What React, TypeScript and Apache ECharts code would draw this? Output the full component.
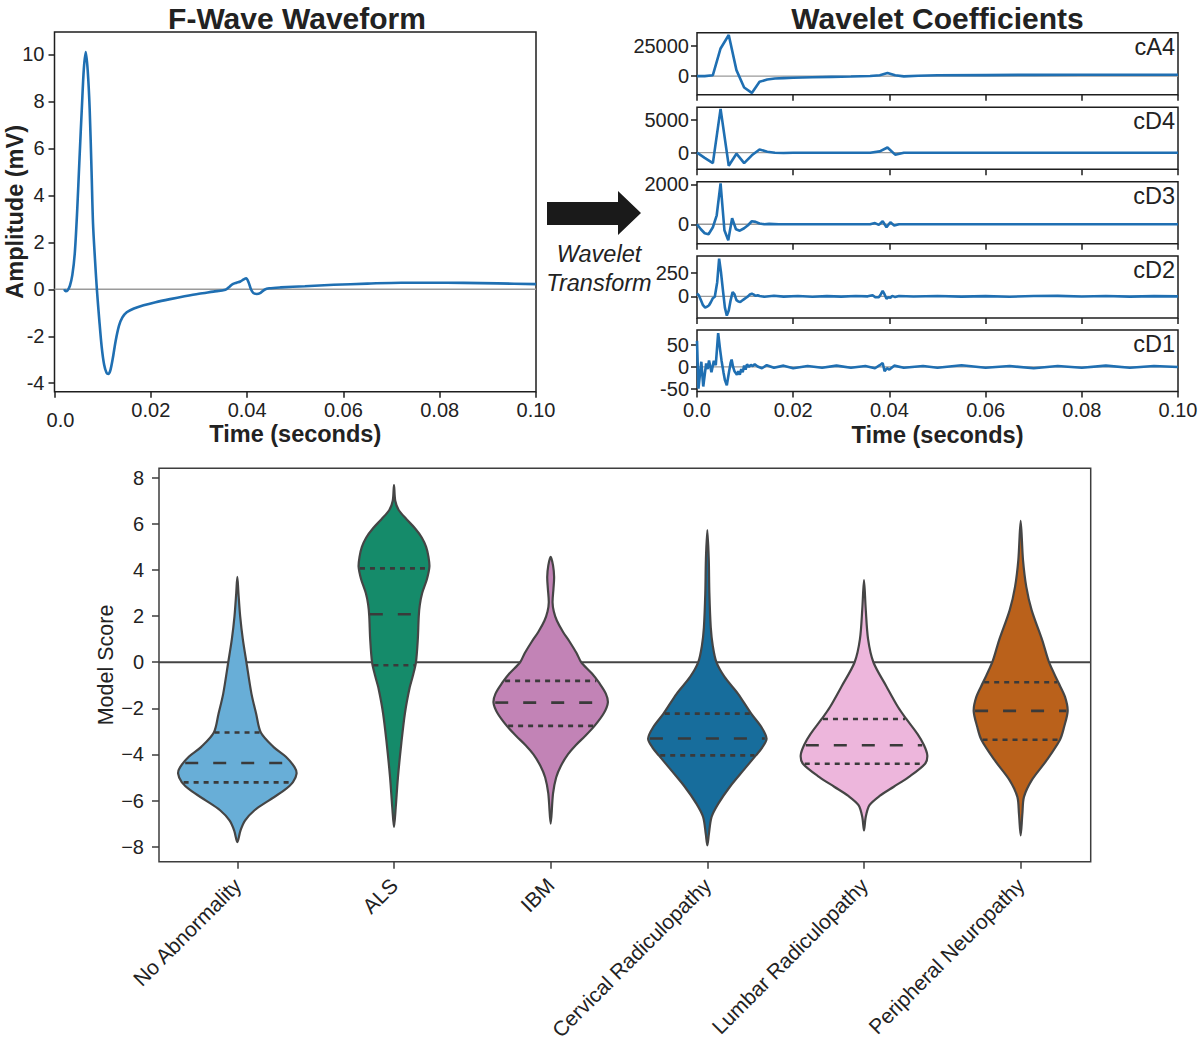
import React, { useEffect, useRef } from "react";
import * as echarts from "echarts";

const FONT = "'Liberation Sans', Arial, Helvetica, sans-serif";
const BLUE = "#1f6fb2";
const TEXT = "#222222";
const FRAME = "#1e1e1e";

// ---------- F-wave waveform ----------
const fwTime = [0.002, 0.0023, 0.0027, 0.0032, 0.0037, 0.0042, 0.0047, 0.0052, 0.0057, 0.0061, 0.0065, 0.0069, 0.0073, 0.0077, 0.008, 0.0084, 0.0088, 0.0093, 0.0098, 0.0103, 0.0108, 0.0112, 0.0116, 0.0121, 0.0127, 0.0134, 0.0141, 0.015, 0.0165, 0.0185, 0.021, 0.024, 0.027, 0.03, 0.033, 0.0355, 0.0363, 0.037, 0.0378, 0.0386, 0.0393, 0.0398, 0.0403, 0.0408, 0.0413, 0.042, 0.0428, 0.0436, 0.0446, 0.047, 0.052, 0.058, 0.065, 0.072, 0.078, 0.085, 0.092, 0.1];
const fwAmp = [0.0, -0.08, -0.05, 0.15, 0.6, 1.5, 3.3, 5.6, 7.8, 9.4, 10.1, 9.3, 7.7, 5.0, 2.8, 1.3, 0.0, -1.3, -2.45, -3.2, -3.55, -3.6, -3.45, -2.95, -2.2, -1.55, -1.2, -0.98, -0.82, -0.68, -0.55, -0.42, -0.3, -0.19, -0.1, -0.02, 0.1, 0.22, 0.28, 0.33, 0.42, 0.47, 0.3, 0.0, -0.16, -0.2, -0.15, -0.02, 0.04, 0.08, 0.13, 0.19, 0.24, 0.28, 0.28, 0.27, 0.25, 0.22];
const fwYTicks = [-4, -2, 0, 2, 4, 6, 8, 10];

// ---------- Wavelet coefficients ----------
const cA4Time = [0, 0.0016, 0.0033, 0.0049, 0.0066, 0.0082, 0.0098, 0.0114, 0.013, 0.0146, 0.0162, 0.018, 0.02, 0.024, 0.028, 0.032, 0.036, 0.038, 0.0396, 0.0412, 0.043, 0.046, 0.05, 0.06, 0.07, 0.08, 0.09, 0.1];
const cA4Val = [0, 0, 800, 23000, 34200, 5000, -9400, -13900, -4700, -2800, -2000, -1600, -1300, -900, -600, -300, 100, 800, 2600, 700, -200, 400, 700, 900, 1100, 1200, 1200, 1200];
const cD4Time = [0, 0.0016, 0.0033, 0.0049, 0.0066, 0.0082, 0.0098, 0.0114, 0.013, 0.0146, 0.0162, 0.018, 0.02, 0.036, 0.038, 0.0396, 0.0412, 0.043, 0.046, 0.1];
const cD4Val = [0, -800, -1600, 6700, -2000, -150, -1600, -400, 500, 150, 0, -50, 0, 0, 200, 800, -300, 0, 0, 0];
const cD3Time = [0, 0.0008, 0.0016, 0.0024, 0.0033, 0.0041, 0.0049, 0.0057, 0.0065, 0.0073, 0.0081, 0.0089, 0.0098, 0.0106, 0.0114, 0.0122, 0.013, 0.014, 0.015, 0.017, 0.036, 0.037, 0.0378, 0.0386, 0.0394, 0.0402, 0.041, 0.042, 0.1];
const cD3Val = [0, -250, -450, -500, -150, 450, 2050, -300, -800, 300, -250, -320, -200, -50, 150, 120, 40, 0, 20, 0, 0, 60, -30, 150, -150, 100, -60, 0, 0];
const cD2Time = [0, 0.0004, 0.0008, 0.0012, 0.0017, 0.0021, 0.0025, 0.0029, 0.0033, 0.0037, 0.0042, 0.0046, 0.005, 0.0054, 0.0058, 0.0062, 0.0066, 0.007, 0.0074, 0.0078, 0.0082, 0.0086, 0.009, 0.0094, 0.0098, 0.0102, 0.0106, 0.011, 0.0114, 0.0118, 0.0122, 0.0126, 0.013, 0.014, 0.016, 0.018, 0.021, 0.024, 0.027, 0.03, 0.033, 0.0355, 0.0365, 0.037, 0.0378, 0.0382, 0.0386, 0.039, 0.0394, 0.0398, 0.0402, 0.0406, 0.0412, 0.042, 0.045, 0.05, 0.055, 0.06, 0.065, 0.07, 0.075, 0.08, 0.085, 0.09, 0.095, 0.1];
const cD2Val = [30, 10, -40, -90, -120, -110, -95, -60, -20, -5, 150, 400, 250, 60, -120, -205, -150, -40, 45, 20, -40, -55, -60, -45, -30, -15, 0, 20, 28, 18, 5, 12, 3, -5, 6, -3, 4, -4, 2, -3, 3, 0, 12, -8, -10, 20, 57, 20, -25, -10, -15, 5, -8, 3, -2, 4, -3, 2, -4, 3, 5, -2, 3, -3, 2, 0];
const cD1Time = [0, 0.0003, 0.0009, 0.0013, 0.0019, 0.0022, 0.0025, 0.003, 0.0035, 0.0039, 0.0044, 0.0048, 0.0051, 0.0055, 0.0058, 0.0062, 0.0066, 0.007, 0.0072, 0.0075, 0.0078, 0.0083, 0.0086, 0.0089, 0.0092, 0.0095, 0.0098, 0.0101, 0.0104, 0.0108, 0.0112, 0.0116, 0.012, 0.0126, 0.0135, 0.0145, 0.016, 0.018, 0.02, 0.023, 0.026, 0.029, 0.032, 0.035, 0.037, 0.038, 0.0386, 0.039, 0.0395, 0.04, 0.041, 0.043, 0.047, 0.05, 0.055, 0.06, 0.065, 0.07, 0.075, 0.08, 0.085, 0.09, 0.095, 0.1];
const cD1Val = [60, -50, 12, -45, 8, -5, 15, -12, 14, 4, 78, 40, 15, -12, -30, -42, -15, 10, 17, 0, -10, -18, -10, -18, -5, -12, 3, -6, 6, 0, 5, 2, 6, 1, -3, 4, -2, 3, -3, 2, -2, 3, -2, 2, -3, 4, 9, -10, -3, -6, 3, -2, 2, -2, 4, -2, 2, -3, 2, -2, 3, -2, 2, 0];

const coefNames = ["cA4", "cD4", "cD3", "cD2", "cD1"];
const coefTimes = [cA4Time, cD4Time, cD3Time, cD2Time, cD1Time];
const coefVals = [cA4Val, cD4Val, cD3Val, cD2Val, cD1Val];
const coefMin = [-15400, -2540, -973, -230, -56.5];
const coefMax = [36100, 6946, 2131, 428, 85];
const coefTicks = [[0, 25000], [0, 5000], [0, 2000], [0, 250], [-50, 0, 50]];

// ---------- Violin plot ----------
const categories = ["No Abnormality", "ALS", "IBM", "Cervical Radiculopathy", "Lumbar Radiculopathy", "Peripheral Neuropathy"];
const violinColors = ["#68AED7", "#158B6A", "#C283B6", "#176D9C", "#EDB6DC", "#BA611B"];
// [score, half width in category units], top to bottom
const profNoAbn = [[3.7, 0], [3.0, 0.007], [2.0, 0.018], [1.0, 0.035], [0, 0.058], [-1.36, 0.09], [-2.23, 0.12], [-3.05, 0.15], [-3.67, 0.23], [-4.1, 0.31], [-4.55, 0.365], [-4.83, 0.378], [-5.2, 0.355], [-5.55, 0.3], [-6.0, 0.2], [-6.42, 0.11], [-6.86, 0.05], [-7.3, 0.02], [-7.8, 0]];
const profALS = [[7.68, 0], [7.0, 0.008], [6.6, 0.03], [6.2, 0.08], [5.8, 0.135], [5.4, 0.178], [5.0, 0.205], [4.57, 0.22], [4.14, 0.226], [3.6, 0.21], [3.0, 0.18], [2.5, 0.165], [2.0, 0.158], [1.0, 0.152], [0, 0.14], [-0.6, 0.12], [-1.1, 0.1], [-2.2, 0.07], [-3.5, 0.047], [-5.0, 0.025], [-6.3, 0.011], [-7.15, 0]];
const profIBM = [[4.57, 0], [4.2, 0.015], [3.7, 0.022], [3.2, 0.018], [2.6, 0.012], [2.2, 0.02], [1.8, 0.04], [1.3, 0.08], [0.9, 0.12], [0.4, 0.165], [0, 0.195], [-0.5, 0.265], [-0.9, 0.31], [-1.36, 0.352], [-1.75, 0.365], [-2.2, 0.34], [-2.76, 0.28], [-3.2, 0.22], [-3.6, 0.16], [-4.0, 0.11], [-4.5, 0.065], [-5.0, 0.035], [-5.7, 0.015], [-7.0, 0]];
const profCerv = [[5.73, 0], [4.5, 0.009], [3.0, 0.013], [1.5, 0.022], [0.7, 0.035], [0, 0.058], [-0.64, 0.11], [-1.36, 0.195], [-2.23, 0.28], [-2.81, 0.345], [-3.31, 0.378], [-3.7, 0.35], [-4.04, 0.31], [-4.69, 0.23], [-5.41, 0.143], [-6.13, 0.07], [-6.71, 0.027], [-7.44, 0.01], [-7.94, 0]];
const profLumb = [[3.56, 0], [2.3, 0.011], [1.0, 0.026], [0, 0.06], [-1.07, 0.145], [-1.94, 0.217], [-2.46, 0.27], [-3.1, 0.34], [-3.6, 0.383], [-4.04, 0.404], [-4.4, 0.39], [-4.98, 0.285], [-5.4, 0.19], [-5.8, 0.1], [-6.2, 0.035], [-6.71, 0.011], [-7.29, 0]];
const profPeri = [[6.13, 0], [4.43, 0.015], [3.27, 0.036], [2.26, 0.07], [0.95, 0.138], [0, 0.181], [-0.87, 0.24], [-1.5, 0.283], [-2.11, 0.3], [-2.81, 0.277], [-3.36, 0.251], [-4.25, 0.166], [-5.12, 0.07], [-5.84, 0.021], [-6.56, 0.011], [-7.51, 0]];
const violinProfiles = [profNoAbn, profALS, profIBM, profCerv, profLumb, profPeri];
const lowerQuartiles = [-5.21, -0.13, -2.76, -4.04, -4.4, -3.36];
const medians = [-4.37, 2.08, -1.75, -3.31, -3.6, -2.11];
const upperQuartiles = [-3.05, 4.07, -0.81, -2.23, -2.46, -0.87];
const scoreTicks = [-8, -6, -4, -2, 0, 2, 4, 6, 8];
const catTicks = [0, 1, 2, 3, 4, 5];

const V_XMIN = -0.5;
const V_XMAX = 5.447;

function widthAt(prof: number[][], v: number): number {
  for (let k = 0; k < prof.length - 1; k++) {
    const [v1, w1] = prof[k];
    const [v2, w2] = prof[k + 1];
    if (v <= v1 && v >= v2) {
      const f = (v1 - v) / (v1 - v2);
      return w1 + f * (w2 - w1);
    }
  }
  return 0;
}

const pairs = (xs: number[], ys: number[]) => xs.map((x, i) => [x, ys[i]]);

export default function App() {
  const ref = useRef<HTMLDivElement>(null);
  useEffect(() => {
    if (!ref.current) return;
    const chart = echarts.init(ref.current, null, { renderer: "svg" });

    const TICK_FS = 20;
    const tickFont = { fontFamily: FONT, fontSize: TICK_FS, color: TEXT };
    const nameStyle = { fontFamily: FONT, fontSize: 23.5, fontWeight: "bold" as const, color: TEXT };

    const grids: any[] = [
      { left: 54.5, top: 32, width: 481.5, height: 359.7 },
      { left: 697, top: 32.7, width: 481, height: 62 },
      { left: 697, top: 107.3, width: 481, height: 62 },
      { left: 697, top: 181.7, width: 481, height: 62 },
      { left: 697, top: 256, width: 481, height: 62 },
      { left: 697, top: 330, width: 481, height: 61.5 },
      { left: 159, top: 468.3, width: 931.7, height: 393.4 },
    ].map((g, i) => ({
      ...g,
      show: true,
      borderColor: i === 6 ? "#3d3d3d" : FRAME,
      borderWidth: 1.5,
      backgroundColor: "transparent",
      containLabel: false,
      outerBoundsMode: "none",
    }));

    const tickStyle = (color: string) => ({ show: true, inside: false, length: 6, lineStyle: { color, width: 1.5 } });

    const xAxes: any[] = [];
    const yAxes: any[] = [];

    // grid 0 : F-wave
    xAxes.push({
      type: "value", gridIndex: 0, min: 0, max: 0.1, interval: 0.02,
      axisLine: { show: false, onZero: false },
      axisTick: tickStyle(FRAME),
      splitLine: { show: false },
      axisLabel: {
        ...tickFont, margin: 8,
        formatter: (v: number) => (v === 0 ? "{low|0.0}" : v.toFixed(2)),
        rich: { low: { fontFamily: FONT, fontSize: TICK_FS, color: TEXT, padding: [10, 0, 0, 12] } },
      },
      name: "Time (seconds)", nameLocation: "middle", nameGap: 30, nameMoveOverlap: false, nameTextStyle: nameStyle,
    });
    yAxes.push({
      type: "value", gridIndex: 0, min: -4.36, max: 10.95,
      axisLine: { show: false, onZero: false },
      axisTick: { ...tickStyle(FRAME), customValues: fwYTicks },
      splitLine: { show: false },
      axisLabel: { ...tickFont, margin: 10, customValues: fwYTicks, formatter: (v: number) => String(v) },
      name: "Amplitude (mV)", nameLocation: "middle", nameGap: 28, nameMoveOverlap: false, nameTextStyle: nameStyle,
    });

    // grids 1..5 : wavelet coefficients
    for (let k = 0; k < 5; k++) {
      const last = k === 4;
      xAxes.push({
        type: "value", gridIndex: k + 1, min: 0, max: 0.1, interval: 0.02,
        axisLine: { show: false, onZero: false },
        axisTick: tickStyle(FRAME),
        splitLine: { show: false },
        axisLabel: { show: last, ...tickFont, margin: 8, formatter: (v: number) => (v === 0 ? "0.0" : v.toFixed(2)) },
        name: last ? "Time (seconds)" : "", nameLocation: "middle", nameGap: 31, nameMoveOverlap: false, nameTextStyle: nameStyle,
      });
      yAxes.push({
        type: "value", gridIndex: k + 1, min: coefMin[k], max: coefMax[k],
        axisLine: { show: false, onZero: false },
        axisTick: { ...tickStyle(FRAME), customValues: coefTicks[k] },
        splitLine: { show: false },
        axisLabel: { ...tickFont, margin: 8, customValues: coefTicks[k], formatter: (v: number) => String(v) },
      });
    }

    // grid 6 : violins
    xAxes.push({
      type: "value", gridIndex: 6, min: V_XMIN, max: V_XMAX,
      axisLine: { show: false, onZero: false },
      axisTick: { ...tickStyle("#3d3d3d"), length: 7, customValues: catTicks },
      splitLine: { show: false },
      axisLabel: {
        fontFamily: FONT, fontSize: 21, color: TEXT, rotate: 45, margin: 20,
        customValues: catTicks,
        formatter: (v: number) => categories[Math.round(v)] ?? "",
      },
    });
    yAxes.push({
      type: "value", gridIndex: 6, min: -8.65, max: 8.41,
      axisLine: { show: false, onZero: false },
      axisTick: { ...tickStyle("#3d3d3d"), length: 7, customValues: scoreTicks },
      splitLine: { show: false },
      axisLabel: {
        fontFamily: FONT, fontSize: TICK_FS, color: TEXT, margin: 15, customValues: scoreTicks,
        formatter: (v: number) => (v < 0 ? "\u2212" + Math.abs(v) : String(v)),
      },
      name: "Model Score", nameLocation: "middle", nameGap: 42, nameMoveOverlap: false,
      nameTextStyle: { fontFamily: FONT, fontSize: 21.5, color: TEXT },
    });

    const series: any[] = [];
    const zeroLine = (idx: number, xmin: number, xmax: number, color: string, width: number) => ({
      type: "line", xAxisIndex: idx, yAxisIndex: idx, z: 1, silent: true,
      data: [[xmin, 0], [xmax, 0]], symbol: "none",
      lineStyle: { color, width },
    });

    series.push(zeroLine(0, 0, 0.1, "#9a9a9a", 1.3));
    series.push({
      type: "line", xAxisIndex: 0, yAxisIndex: 0, z: 2, data: pairs(fwTime, fwAmp),
      symbol: "none", smooth: 0.3, lineStyle: { color: BLUE, width: 2.6 },
    });
    for (let k = 0; k < 5; k++) {
      series.push(zeroLine(k + 1, 0, 0.1, "#9a9a9a", 1.3));
      series.push({
        type: "line", xAxisIndex: k + 1, yAxisIndex: k + 1, z: 2,
        data: pairs(coefTimes[k], coefVals[k]), symbol: "none",
        lineStyle: { color: BLUE, width: 2.6 },
      });
    }
    series.push(zeroLine(6, V_XMIN, V_XMAX, "#444444", 2));
    series.push({
      type: "custom", xAxisIndex: 6, yAxisIndex: 6, z: 3, clip: false,
      data: categories.map((_, i) => [i, medians[i]]),
      encode: { x: 0, y: 1 },
      renderItem: (params: any, api: any) => {
        const i = params.dataIndex;
        const prof = violinProfiles[i];
        const pts: number[][] = [];
        prof.forEach(([v, hw]) => pts.push(api.coord([i + hw, v])));
        for (let k = prof.length - 2; k >= 1; k--) pts.push(api.coord([i - prof[k][1], prof[k][0]]));
        const children: any[] = [
          {
            type: "polygon",
            shape: { points: pts, smooth: 0.3 },
            style: { fill: violinColors[i], stroke: "#454545", lineWidth: 2.2 },
          },
        ];
        const addLine = (v: number, dash: number[]) => {
          const hw = widthAt(prof, v) * 0.97;
          const a = api.coord([i - hw, v]);
          const b = api.coord([i + hw, v]);
          children.push({
            type: "line",
            shape: { x1: a[0], y1: a[1], x2: b[0], y2: b[1] },
            style: { stroke: "#3a3a3a", lineWidth: 2.6, lineDash: dash },
          });
        };
        addLine(upperQuartiles[i], [5, 5]);
        addLine(medians[i], [13, 15]);
        addLine(lowerQuartiles[i], [5, 5]);
        return { type: "group", children };
      },
    });

    const txt = (text: string, x: number, y: number, opts: any = {}) => ({
      type: "text", x, y, silent: true,
      style: {
        text, fontFamily: FONT, fontSize: opts.fontSize ?? 22, fontWeight: opts.fontWeight ?? "normal",
        fontStyle: opts.fontStyle ?? "normal", fill: TEXT,
        align: opts.align ?? "center", textAlign: opts.align ?? "center",
        verticalAlign: "middle", textVerticalAlign: "middle",
      },
    });

    const graphics: any[] = [
      txt("F-Wave Waveform", 297, 18, { fontSize: 30, fontWeight: "bold" }),
      txt("Wavelet Coefficients", 937.5, 18, { fontSize: 30, fontWeight: "bold" }),
      txt("Wavelet", 599, 254, { fontSize: 23.5, fontStyle: "italic" }),
      txt("Transform", 599, 283, { fontSize: 23.5, fontStyle: "italic" }),
      {
        type: "polygon", silent: true,
        shape: { points: [[547, 202], [618, 202], [618, 191], [641, 213], [618, 235], [618, 225], [547, 225]] },
        style: { fill: "#1a1a1a" },
      },
    ];
    const subTops = [32.7, 107.3, 181.7, 256, 330];
    coefNames.forEach((n, k) => graphics.push(txt(n, 1175, subTops[k] + 14, { fontSize: 23.5, align: "right" })));

    chart.setOption({
      animation: false,
      backgroundColor: "#ffffff",
      textStyle: { fontFamily: FONT },
      grid: grids,
      xAxis: xAxes,
      yAxis: yAxes,
      series,
      graphic: graphics,
    });
    return () => chart.dispose();
  }, []);

  return (
    <div
      ref={ref}
      style={{ position: "fixed", left: 0, top: 0, width: 1200, height: 1043, background: "#fff" }}
    />
  );
}
